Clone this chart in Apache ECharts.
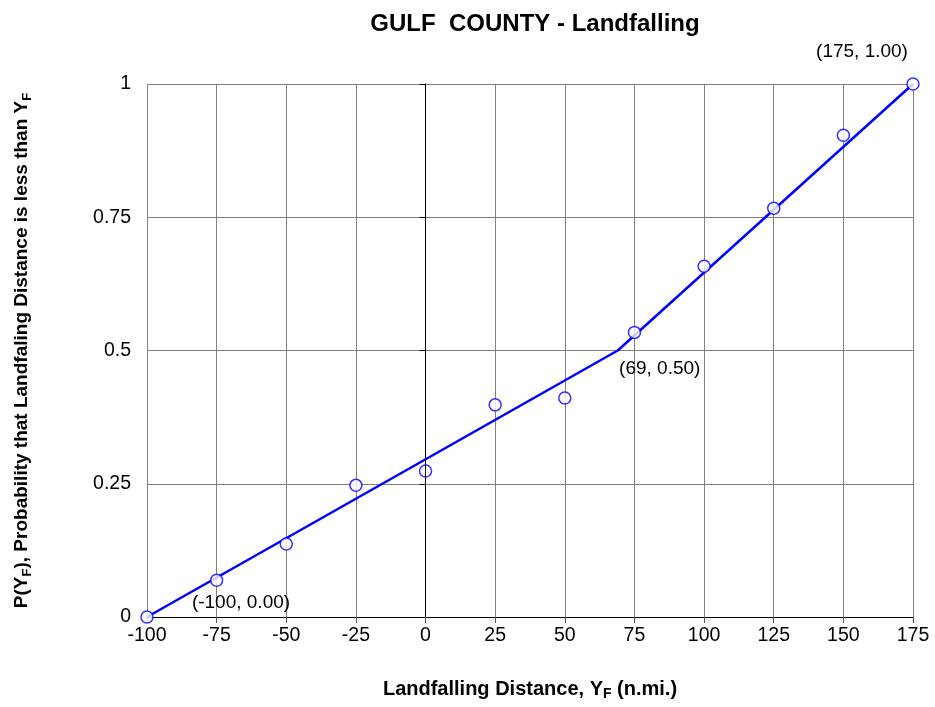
<!DOCTYPE html>
<html>
<head>
<meta charset="utf-8">
<script src="https://cdn.jsdelivr.net/npm/echarts@6/dist/echarts.min.js"></script>
<style>
  html, body { margin: 0; padding: 0; background: #fff; }
  #chart { width: 935px; height: 707px; }
</style>
</head>
<body>
<div id="chart"></div>
<script>
// observed points
const obsX = [-100, -75, -50, -25, 0, 25, 50, 75, 100, 125, 150, 175];
const obsY = [0, 0.069, 0.137, 0.247, 0.274, 0.398, 0.411, 0.534, 0.658, 0.767, 0.904, 1.0];
// fitted piecewise line
const fitX = [-100, 69, 175];
const fitY = [0, 0.5, 1.0];
// tick labels
const yTickLabels = { 0: '0', 0.25: '0.25', 0.5: '0.5', 0.75: '0.75', 1: '1' };

const labelOffsets = [[94, -14], [42, 18], [-51, -32]];

const font = 'Liberation Sans, Arial, sans-serif';
const chart = echarts.init(document.getElementById('chart'));

const nameRich = {
  m: { fontFamily: font, fontSize: 20, fontWeight: 'bold', color: '#000', lineHeight: 24 },
  s: { fontFamily: font, fontSize: 14, fontWeight: 'bold', color: '#000', lineHeight: 12, verticalAlign: 'bottom' }
};
const yNameRich = {
  m: { fontFamily: font, fontSize: 19, fontWeight: 'bold', color: '#000', lineHeight: 24 },
  s: { fontFamily: font, fontSize: 13, fontWeight: 'bold', color: '#000', lineHeight: 12, verticalAlign: 'bottom' }
};

const option = {
  animation: false,
  textStyle: { fontFamily: font },
  title: {
    text: 'GULF  COUNTY - Landfalling',
    left: 530,
    textAlign: 'center',
    top: 7,
    textStyle: { fontFamily: font, fontSize: 24, fontWeight: 'bold', color: '#000' }
  },
  grid: { left: 147, right: 22, top: 84, bottom: 90 },
  xAxis: {
    type: 'value',
    min: -100, max: 175, interval: 25,
    name: '{m|Landfalling Distance, Y}{s|F}{m| (n.mi.)}',
    nameLocation: 'middle',
    nameGap: 60,
    nameTextStyle: { rich: nameRich },
    axisLine: { show: true, onZero: false, lineStyle: { color: '#000', width: 1 } },
    axisTick: { show: true, length: 6, lineStyle: { color: '#555' } },
    axisLabel: { fontFamily: font, fontSize: 19.5, color: '#000', margin: 9 },
    splitLine: { show: true, lineStyle: { color: '#808080', width: 1 } }
  },
  yAxis: {
    type: 'value',
    min: 0, max: 1, interval: 0.25,
    name: '{m|P(Y}{s|F}{m|), Probability that Landfaling Distance is less than Y}{s|F}',
    nameLocation: 'middle',
    nameGap: 113,
    nameTextStyle: { rich: yNameRich },
    axisLine: { show: true, lineStyle: { color: '#000', width: 1 } },
    axisTick: { show: true, length: 6, lineStyle: { color: '#000' } },
    axisLabel: {
      fontFamily: font, fontSize: 19.5, color: '#000', margin: 16,
      formatter: v => yTickLabels[v] !== undefined ? yTickLabels[v] : ''
    },
    splitLine: { show: true, lineStyle: { color: '#808080', width: 1 } }
  },
  series: [
    {
      name: 'fit',
      type: 'line',
      data: fitX.map((x, i) => [x, fitY[i]]),
      showSymbol: false,
      symbol: 'none',
      lineStyle: { color: '#0000ff', width: 2.5 },
      z: 3,
      markLine: {
        silent: true,
        symbol: 'none',
        label: { show: false },
        lineStyle: { color: '#000', width: 1, type: 'solid' },
        data: [{ xAxis: 0 }]
      }
    },
    {
      name: 'observed',
      type: 'scatter',
      data: obsX.map((x, i) => [x, obsY[i]]),
      symbol: 'circle',
      symbolSize: 12,
      itemStyle: { color: '#fff', borderColor: '#0000ff', borderWidth: 1.5 },
      z: 4
    },
    {
      name: 'labels',
      type: 'scatter',
      data: fitX.map((x, i) => ({
        value: [x, fitY[i]],
        label: { offset: labelOffsets[i] }
      })),
      symbolSize: 0,
      itemStyle: { color: '#000', opacity: 1 },
      label: {
        show: true,
        position: 'inside',
        fontFamily: font,
        fontSize: 19,
        color: '#000',
        textBorderWidth: 0,
        formatter: p => '(' + p.value[0] + ', ' + p.value[1].toFixed(2) + ')'
      },
      z: 5
    }
  ]
};

chart.setOption(option);
</script>
</body>
</html>
